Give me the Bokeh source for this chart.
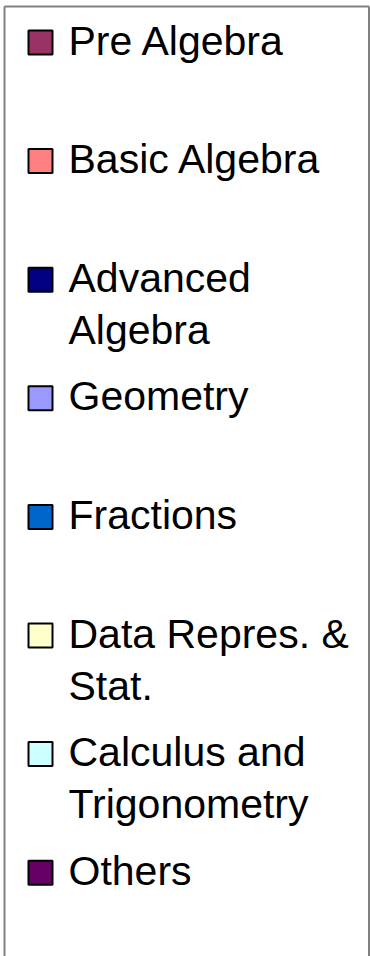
from bokeh.plotting import figure
from bokeh.models import Range1d
from bokeh.core.properties import value
from bokeh.embed import file_html
from bokeh.resources import INLINE

# Legend data
categories = ["Pre Algebra", "Basic Algebra", "Advanced Algebra", "Geometry",
              "Fractions", "Data Repres. & Stat.", "Calculus and Trigonometry", "Others"]
label_lines = [["Pre Algebra"], ["Basic Algebra"], ["Advanced", "Algebra"], ["Geometry"],
               ["Fractions"], ["Data Repres. &", "Stat."], ["Calculus and", "Trigonometry"], ["Others"]]
colors = ["#993366", "#FF8080", "#000080", "#9999FF",
          "#0066CC", "#FFFFCC", "#CCFFFF", "#660066"]

W, H = 370, 956
p = figure(width=W, height=H, output_backend="svg", toolbar_location=None,
           x_range=Range1d(0, W), y_range=Range1d(H, 0),
           min_border=0, outline_line_color=None)
p.axis.visible = False
p.grid.visible = False
p.background_fill_color = "white"
p.border_fill_color = "white"

first_base = 55
step = 118.6
line_gap = 52
sq = 26
text_shift = 15

# frame
p.line(x=[4, 4], y=[H + 5, 6], line_color="#808080", line_width=2)
p.line(x=[4, 368.5], y=[6, 6], line_color="#808080", line_width=2)
p.line(x=[368.5, 368.5], y=[6, H + 5], line_color="#808080", line_width=2)

sx0, sx1, bt, tp = [], [], [], []
tx, ty, tt = [], [], []
for i, (cat, lines) in enumerate(zip(categories, label_lines)):
    base = first_base + i * step
    sx0.append(28)
    sx1.append(52)
    bt.append(base - 1)
    tp.append(base - sq + 1)
    for j, ln in enumerate(lines):
        tx.append(68)
        ty.append(base + j * line_gap - text_shift)
        tt.append(ln)

p.quad(left=sx0, right=sx1, bottom=bt, top=tp, fill_color=colors,
       line_color="black", line_width=2)
p.text(x=tx, y=ty, text=tt, text_font=value("Liberation Sans"),
       text_font_size="41px", text_baseline="alphabetic", text_align="left",
       text_color="black")

open("out.html", "w").write(file_html(p, INLINE))
